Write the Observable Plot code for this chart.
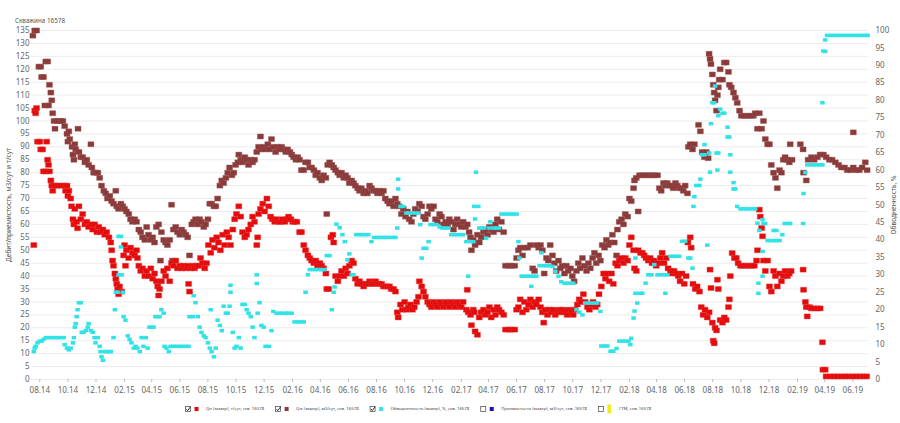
<!DOCTYPE html>
<html><head><meta charset="utf-8">
<script src="https://cdn.jsdelivr.net/npm/d3@7"></script>
<script src="https://cdn.jsdelivr.net/npm/@observablehq/plot@0.6"></script>
<style>
body{margin:0;background:#fff;font-family:"Segoe UI","Noto Sans",sans-serif;}
#wrap{width:900px;height:423px;overflow:hidden;}
#wrap svg{display:block;}
</style></head><body>
<div id="wrap"><div id="title"></div><div id="chart"></div><div id="legend"></div></div>
<script>
// Qн (замер), т/сут
const oilQ = [
["2014-07-19",52],["2014-07-21",104],["2014-07-23",103],["2014-07-25",105],["2014-07-27",92],["2014-08-01",92],["2014-08-03",89],["2014-08-07",89],["2014-08-09",80.5],["2014-08-14",80.5],["2014-08-16",92],["2014-08-18",85],["2014-08-20",83],["2014-08-22",80.5],["2014-08-25",77],["2014-08-27",75],["2014-08-29",73],["2014-09-02",75],["2014-09-09",75],["2014-09-15",75],["2014-09-22",75],["2014-09-26",73],["2014-09-29",75],["2014-10-01",71],["2014-10-03",73],["2014-10-07",70],["2014-10-09",67],["2014-10-12",62],["2014-10-14",60],["2014-10-16",66],["2014-10-20",61],["2014-10-22",58.5],["2014-10-25",67],["2014-10-29",62],["2014-11-02",64],["2014-11-07",60],["2014-11-11",61],["2014-11-15",59],["2014-11-20",60],["2014-11-24",58],["2014-11-28",60],["2014-12-03",57],["2014-12-07",59],["2014-12-11",57],["2014-12-16",58],["2014-12-20",56],["2014-12-24",57],["2014-12-29",55],
["2015-01-02",53],["2015-01-04",50],["2015-01-06",46],["2015-01-08",44],["2015-01-11",41],["2015-01-13",39],["2015-01-15",37],["2015-01-17",35],["2015-01-19",33],["2015-01-21",36],["2015-01-26",34],["2015-01-30",48],["2015-02-01",52],["2015-02-03",44],["2015-02-05",50],["2015-02-10",47],["2015-02-14",51],["2015-02-18",49],["2015-02-23",48],["2015-02-27",50],["2015-03-01",47],["2015-03-04",44],["2015-03-08",42],["2015-03-12",43],["2015-03-17",40],["2015-03-21",42],["2015-03-25",40],["2015-03-30",43],["2015-04-03",39],["2015-04-07",41],["2015-04-11",38],["2015-04-14",36],["2015-04-16",32.5],["2015-04-18",35],["2015-04-22",38],["2015-04-27",42],["2015-05-01",40],["2015-05-05",43],["2015-05-10",38],["2015-05-14",45],["2015-05-18",44],["2015-05-23",46],["2015-05-27",43],["2015-06-01",44],["2015-06-05",43],["2015-06-09",44],["2015-06-14",43],["2015-06-18",44],["2015-06-20",37],["2015-06-22",34],["2015-06-25",43],["2015-06-29",44],["2015-07-03",43],["2015-07-07",44],["2015-07-12",44],["2015-07-16",47],["2015-07-20",45],["2015-07-25",43],["2015-07-29",45],
["2015-08-02",52],["2015-08-07",49],["2015-08-11",54],["2015-08-15",51],["2015-08-20",55],["2015-08-24",53],["2015-08-28",50],["2015-09-02",56],["2015-09-06",52],["2015-09-11",57],["2015-09-15",55],["2015-09-19",52],["2015-09-24",58],["2015-09-28",62],["2015-10-02",64],["2015-10-07",67],["2015-10-11",63],["2015-10-15",57],["2015-10-20",55],["2015-10-24",56],["2015-10-28",58],["2015-11-02",60],["2015-11-06",63],["2015-11-10",61],["2015-11-15",52],["2015-11-17",55],["2015-11-19",64],["2015-11-23",66],["2015-11-28",68],["2015-12-02",65],["2015-12-07",70],["2015-12-11",67],["2015-12-15",63],["2015-12-19",62],["2015-12-24",61],["2015-12-28",62],
["2016-01-02",61],["2016-01-06",61],["2016-01-10",62],["2016-01-15",61],["2016-01-19",62],["2016-01-23",63],["2016-01-28",62],["2016-02-01",61],["2016-02-05",61],["2016-02-10",61],["2016-02-16",57],["2016-02-20",57],["2016-02-25",52],["2016-02-29",50],["2016-03-05",48],["2016-03-09",47],["2016-03-13",46],["2016-03-18",45],["2016-03-22",46],["2016-03-26",44],["2016-03-31",45],["2016-04-04",44],["2016-04-08",43],["2016-04-13",41],["2016-04-15",35],["2016-04-19",35],["2016-04-24",55],["2016-04-28",56],["2016-04-30",53],["2016-05-04",40],["2016-05-09",38],["2016-05-13",40],["2016-05-17",42],["2016-05-22",40],["2016-05-26",43],["2016-05-30",41],["2016-06-03",44],["2016-06-08",46],["2016-06-12",45],["2016-06-16",39],["2016-06-21",37],["2016-06-25",38],["2016-06-29",37],["2016-07-04",36],["2016-07-08",37],["2016-07-12",37],["2016-07-17",38],["2016-07-21",37],["2016-07-25",37],["2016-07-30",38],["2016-08-03",37],["2016-08-07",37],["2016-08-12",37],["2016-08-16",36],["2016-08-20",36],["2016-08-25",36],["2016-08-29",36],["2016-09-02",35],["2016-09-07",35],["2016-09-11",34],["2016-09-15",26],["2016-09-17",24],["2016-09-22",29],["2016-09-26",27],["2016-10-01",30],["2016-10-05",27],["2016-10-09",28],["2016-10-14",29],["2016-10-18",27],["2016-10-22",28],["2016-10-27",30],["2016-10-31",32],["2016-11-02",38],["2016-11-07",36],["2016-11-11",34],["2016-11-15",32],["2016-11-20",30],["2016-11-24",29],["2016-11-28",28],["2016-12-03",30],["2016-12-07",29],["2016-12-11",28],["2016-12-16",30],["2016-12-20",29],["2016-12-24",28],["2016-12-29",30],
["2017-01-02",29],["2017-01-06",28],["2017-01-10",30],["2017-01-15",29],["2017-01-19",28],["2017-01-23",30],["2017-01-28",29],["2017-02-01",28],["2017-02-05",30],["2017-02-12",27],["2017-02-14",34.7],["2017-02-16",26],["2017-02-21",25],["2017-02-23",21],["2017-02-27",27],["2017-03-01",26],["2017-03-03",18.6],["2017-03-08",17.3],["2017-03-12",24],["2017-03-16",26],["2017-03-21",27],["2017-03-25",25],["2017-03-30",26],["2017-04-03",28],["2017-04-07",24],["2017-04-12",27],["2017-04-16",25],["2017-04-20",28],["2017-04-24",27],["2017-04-29",26],["2017-05-04",25],["2017-05-08",19.3],["2017-05-15",19.3],["2017-05-21",19.3],["2017-05-28",19.3],["2017-06-01",27],["2017-06-05",28],["2017-06-09",31],["2017-06-14",26],["2017-06-18",30],["2017-06-22",27],["2017-06-27",29],["2017-07-01",31],["2017-07-06",28],["2017-07-10",30],["2017-07-14",29],["2017-07-19",31],["2017-07-23",28],["2017-07-27",26],["2017-07-30",22],["2017-08-03",27],["2017-08-07",25],["2017-08-11",27],["2017-08-16",26],["2017-08-20",27],["2017-08-24",25],["2017-08-29",26],["2017-09-02",27],["2017-09-06",26],["2017-09-10",27],["2017-09-15",26],["2017-09-19",25],["2017-09-23",27],["2017-09-28",26],["2017-10-02",25],["2017-10-06",27],["2017-10-11",29],["2017-10-15",31],["2017-10-19",30],["2017-10-24",33],["2017-10-28",30],["2017-11-02",28],["2017-11-06",27],["2017-11-10",29],["2017-11-14",30],["2017-11-19",28],["2017-11-23",29],["2017-11-27",33],["2017-12-02",36],["2017-12-07",41],["2017-12-11",39],["2017-12-15",41],["2017-12-19",38],["2017-12-24",41],["2017-12-28",37],
["2018-01-02",45],["2018-01-06",44],["2018-01-10",46],["2018-01-15",47],["2018-01-19",45],["2018-01-23",47],["2018-01-28",46],["2018-02-01",52],["2018-02-05",55],["2018-02-10",50],["2018-02-12",43],["2018-02-16",42],["2018-02-20",50],["2018-02-25",49],["2018-03-01",49],["2018-03-05",48],["2018-03-09",47],["2018-03-14",46],["2018-03-18",47],["2018-03-22",45],["2018-03-26",46],["2018-03-31",44],["2018-04-04",45],["2018-04-09",47],["2018-04-13",49],["2018-04-17",45],["2018-04-22",47],["2018-04-26",43],["2018-05-01",42],["2018-05-05",41],["2018-05-09",42],["2018-05-13",41],["2018-05-18",40],["2018-05-22",38],["2018-05-26",41],["2018-05-31",37],["2018-06-04",40],["2018-06-08",53],["2018-06-13",55],["2018-06-15",51],["2018-06-19",37],["2018-06-24",35],["2018-06-28",36],["2018-07-03",34],["2018-07-07",28],["2018-07-11",25],["2018-07-15",27],["2018-07-20",24],["2018-07-24",26],["2018-07-26",42.5],["2018-07-28",35.4],["2018-07-31",22],["2018-08-02",15],["2018-08-04",14],["2018-08-06",20],["2018-08-09",19],["2018-08-11",38.6],["2018-08-13",35],["2018-08-17",23],["2018-08-22",22],["2018-08-26",24],["2018-08-30",23],["2018-09-04",28],["2018-09-06",31],["2018-09-08",40],["2018-09-12",48.9],["2018-09-17",47],["2018-09-21",47],["2018-09-25",45],["2018-09-30",44],["2018-10-04",44],["2018-10-11",44],["2018-10-17",44],["2018-10-24",44],["2018-10-30",44],["2018-11-04",46],["2018-11-06",50],["2018-11-10",65.7],["2018-11-12",63],["2018-11-15",58.6],["2018-11-17",55.4],["2018-11-19",46],["2018-11-23",42],["2018-11-28",46],["2018-12-02",36],["2018-12-06",34],["2018-12-11",42],["2018-12-15",40],["2018-12-19",36],["2018-12-24",41],["2018-12-28",38],
["2019-01-01",40],["2019-01-05",42],["2019-01-10",40],["2019-01-14",41],["2019-01-18",42],["2019-02-13",42.5],["2019-02-14",34.7],["2019-02-18",30],["2019-02-20",28],["2019-02-22",24.4],["2019-02-27",28],["2019-03-03",27.5],["2019-03-09",27.5],["2019-03-16",27.5],["2019-03-22",27.5],["2019-03-27",14.4],["2019-03-28",3.8],["2019-04-02",3.8],["2019-04-04",1.2],["2019-04-13",1.2],["2019-04-21",1.2],["2019-04-29",1.2],["2019-05-07",1.2],["2019-05-15",1.2],["2019-05-23",1.2],["2019-05-31",1.2],["2019-06-08",1.2],["2019-06-16",1.2],["2019-06-24",1.2],["2019-07-01",1.2]
];

// Qж (замер), м3/сут
const liquidQ = [
["2014-07-17",133],["2014-07-21",135],["2014-07-25",135],["2014-07-30",121],["2014-08-03",121],["2014-08-05",117],["2014-08-09",117],["2014-08-12",106],["2014-08-14",123],["2014-08-18",123],["2014-08-20",106],["2014-08-22",114],["2014-08-25",111],["2014-08-27",108],["2014-08-29",103],["2014-09-01",100],["2014-09-03",97],["2014-09-07",100],["2014-09-11",100],["2014-09-16",100],["2014-09-20",100],["2014-09-24",98],["2014-09-29",95],["2014-10-01",92],["2014-10-03",96],["2014-10-05",93],["2014-10-10",90],["2014-10-12",87],["2014-10-14",85],["2014-10-16",91],["2014-10-18",89],["2014-10-23",97],["2014-10-25",88],["2014-10-29",86],["2014-11-02",86],["2014-11-07",84],["2014-11-11",85],["2014-11-15",83],["2014-11-20",91],["2014-11-22",82],["2014-11-26",80],["2014-11-30",80],["2014-12-05",80],["2014-12-09",78],["2014-12-13",75],["2014-12-18",73],["2014-12-22",72],["2014-12-26",70],["2014-12-31",71],
["2015-01-04",69],["2015-01-08",68],["2015-01-13",73],["2015-01-15",67],["2015-01-19",66],["2015-01-24",68],["2015-01-28",67],["2015-02-01",66],["2015-02-05",65],["2015-02-10",64],["2015-02-14",62],["2015-02-18",61],["2015-02-23",62],["2015-02-27",61],["2015-03-04",58],["2015-03-08",57],["2015-03-12",55],["2015-03-17",54],["2015-03-21",59],["2015-03-25",56],["2015-03-30",54],["2015-04-03",55],["2015-04-07",53],["2015-04-11",59],["2015-04-16",60],["2015-04-20",46],["2015-04-22",57],["2015-04-27",54],["2015-05-01",53],["2015-05-05",52],["2015-05-10",54],["2015-05-14",67.6],["2015-05-16",46],["2015-05-18",58],["2015-05-23",59],["2015-05-27",57],["2015-06-01",56],["2015-06-05",58],["2015-06-09",57],["2015-06-14",56],["2015-06-18",55],["2015-06-22",48],["2015-06-27",60],["2015-07-01",61],["2015-07-05",62],["2015-07-10",60],["2015-07-14",62],["2015-07-18",61],["2015-07-23",59],["2015-07-27",60],["2015-08-01",62],["2015-08-05",68],["2015-08-09",68],["2015-08-14",67],["2015-08-18",67],["2015-08-22",70],["2015-08-27",75],["2015-08-31",77],["2015-09-04",76],["2015-09-09",78],["2015-09-13",80],["2015-09-17",82],["2015-09-22",79],["2015-09-26",80],["2015-09-30",83],["2015-10-05",84],["2015-10-07",87],["2015-10-11",85],["2015-10-15",84],["2015-10-20",86],["2015-10-24",85],["2015-10-28",83],["2015-11-02",85],["2015-11-06",84],["2015-11-10",85],["2015-11-15",88],["2015-11-19",90],["2015-11-23",94],["2015-11-25",89],["2015-11-30",90],["2015-12-04",89],["2015-12-09",91],["2015-12-13",89],["2015-12-17",93],["2015-12-21",90],["2015-12-26",88],["2015-12-30",90],
["2016-01-04",89],["2016-01-08",90],["2016-01-13",89],["2016-01-17",88],["2016-01-21",89],["2016-01-26",88],["2016-01-30",87],["2016-02-03",86],["2016-02-08",85],["2016-02-12",86],["2016-02-16",85],["2016-02-20",81],["2016-02-25",81],["2016-02-29",84],["2016-03-05",84],["2016-03-09",82],["2016-03-13",82],["2016-03-18",81],["2016-03-22",79],["2016-03-26",80],["2016-03-31",78],["2016-04-04",77],["2016-04-08",79],["2016-04-13",78],["2016-04-15",64],["2016-04-17",83],["2016-04-21",84],["2016-04-26",83],["2016-04-30",82],["2016-05-04",81],["2016-05-09",80],["2016-05-13",79],["2016-05-17",80],["2016-05-22",78],["2016-05-26",79],["2016-05-30",78],["2016-06-03",76],["2016-06-08",77],["2016-06-12",76],["2016-06-16",75],["2016-06-21",74],["2016-06-25",73],["2016-06-29",74],["2016-07-04",72],["2016-07-08",73],["2016-07-12",72],["2016-07-17",75],["2016-07-21",74],["2016-07-25",73],["2016-07-30",73],["2016-08-03",72],["2016-08-07",73],["2016-08-12",72],["2016-08-16",73],["2016-08-20",70],["2016-08-25",69],["2016-08-29",68],["2016-09-02",69],["2016-09-07",67],["2016-09-11",70],["2016-09-15",68],["2016-09-19",67],["2016-09-24",64],["2016-09-28",66],["2016-10-03",63],["2016-10-07",65],["2016-10-11",62],["2016-10-16",61],["2016-10-20",64],["2016-10-24",66],["2016-10-29",65],["2016-11-02",68],["2016-11-07",67],["2016-11-11",63],["2016-11-15",62],["2016-11-20",64],["2016-11-24",67],["2016-11-28",66],["2016-12-03",67],["2016-12-07",62],["2016-12-11",61],["2016-12-16",64],["2016-12-20",63],["2016-12-24",60],["2016-12-29",61],
["2017-01-02",60],["2017-01-06",62],["2017-01-10",61],["2017-01-15",58],["2017-01-19",60],["2017-01-23",62],["2017-01-28",60],["2017-02-01",59],["2017-02-05",61],["2017-02-10",59],["2017-02-14",60],["2017-02-18",57],["2017-02-21",55],["2017-02-23",50],["2017-02-27",54],["2017-03-03",52],["2017-03-08",56],["2017-03-12",53],["2017-03-16",55],["2017-03-21",57],["2017-03-25",58],["2017-03-30",56],["2017-04-03",59],["2017-04-07",58],["2017-04-12",57],["2017-04-16",60],["2017-04-20",62],["2017-04-24",58],["2017-04-29",61],["2017-05-04",57],["2017-05-08",44],["2017-05-15",44],["2017-05-21",44],["2017-05-28",44],["2017-06-01",47],["2017-06-05",50],["2017-06-09",51],["2017-06-14",48],["2017-06-18",51],["2017-06-25",51],["2017-07-01",52],["2017-07-06",43],["2017-07-10",42],["2017-07-14",52],["2017-07-19",51],["2017-07-23",52],["2017-07-27",50],["2017-07-31",41],["2017-08-05",47],["2017-08-09",46],["2017-08-13",52],["2017-08-18",48],["2017-08-22",45],["2017-08-26",42],["2017-08-31",46],["2017-09-04",43],["2017-09-08",44],["2017-09-13",41],["2017-09-17",44],["2017-09-21",42],["2017-09-26",43],["2017-09-30",40],["2017-10-04",38],["2017-10-09",42],["2017-10-13",45],["2017-10-17",43],["2017-10-22",47],["2017-10-26",44],["2017-10-31",42],["2017-11-04",45],["2017-11-08",43],["2017-11-13",47],["2017-11-17",49],["2017-11-21",45],["2017-11-26",48],["2017-11-30",46],["2017-12-04",52],["2017-12-09",51],["2017-12-13",54],["2017-12-17",52],["2017-12-22",53],["2017-12-26",56],["2017-12-30",53],
["2018-01-04",48],["2018-01-06",58],["2018-01-10",61],["2018-01-15",62],["2018-01-19",60],["2018-01-23",64],["2018-01-28",63],["2018-02-01",70],["2018-02-05",69],["2018-02-10",74],["2018-02-12",77],["2018-02-16",78],["2018-02-20",65],["2018-02-23",79],["2018-03-01",79],["2018-03-08",79],["2018-03-14",79],["2018-03-21",79],["2018-03-27",79],["2018-04-03",79],["2018-04-07",74],["2018-04-11",73],["2018-04-16",76],["2018-04-20",75],["2018-04-24",76],["2018-04-29",75],["2018-05-03",75],["2018-05-07",74],["2018-05-12",76],["2018-05-16",75],["2018-05-20",74],["2018-05-25",74],["2018-05-29",73],["2018-06-02",75],["2018-06-07",72],["2018-06-09",90],["2018-06-13",91],["2018-06-18",89],["2018-06-22",91],["2018-07-01",98.5],["2018-07-05",96],["2018-07-09",88],["2018-07-14",86],["2018-07-18",88],["2018-07-22",85.6],["2018-07-24",126],["2018-07-26",124],["2018-07-28",122],["2018-07-31",118],["2018-08-02",114],["2018-08-04",111],["2018-08-06",108],["2018-08-09",104],["2018-08-11",110],["2018-08-13",113],["2018-08-15",116],["2018-08-17",120],["2018-08-22",116],["2018-08-26",122.6],["2018-08-30",122.6],["2018-09-04",119],["2018-09-06",114],["2018-09-10",113],["2018-09-15",111],["2018-09-19",109],["2018-09-23",107],["2018-09-28",104],["2018-10-02",102],["2018-10-09",102],["2018-10-15",102],["2018-10-22",102],["2018-10-28",102],["2018-11-01",103],["2018-11-06",97],["2018-11-10",103],["2018-11-15",97],["2018-11-19",100],["2018-11-23",93],["2018-11-28",91],["2018-12-02",91],["2018-12-06",83],["2018-12-11",80],["2018-12-15",78],["2018-12-19",74],["2018-12-24",81],["2018-12-28",80],
["2019-01-01",85],["2019-01-05",86],["2019-01-10",85],["2019-01-14",84],["2019-01-16",91],["2019-01-20",85],["2019-02-07",91],["2019-02-13",89],["2019-02-14",80],["2019-02-20",77],["2019-02-24",85],["2019-03-03",86],["2019-03-09",85],["2019-03-16",86],["2019-03-22",87],["2019-03-29",87],["2019-04-04",86],["2019-04-11",85],["2019-04-17",85],["2019-04-24",84],["2019-05-01",83],["2019-05-07",82],["2019-05-14",82],["2019-05-20",81],["2019-05-27",81],["2019-06-02",95.6],["2019-06-02",82],["2019-06-08",81],["2019-06-15",81],["2019-06-21",82],["2019-06-28",84],["2019-07-02",81]
];

// Обводненность (замер), %
const waterCut = [
["2014-07-19",8],["2014-07-21",9],["2014-07-23",9.5],["2014-07-27",10.5],["2014-08-01",11],["2014-08-05",11],["2014-08-09",11.5],["2014-08-14",12],["2014-08-20",12],["2014-08-27",12],["2014-09-03",12],["2014-09-09",12],["2014-09-15",12],["2014-09-22",12],["2014-09-24",10],["2014-09-29",9],["2014-10-03",8.5],["2014-10-07",9],["2014-10-12",10.5],["2014-10-14",12],["2014-10-16",15],["2014-10-18",16],["2014-10-20",18],["2014-10-22",20],["2014-10-25",22],["2014-10-29",22],["2014-10-31",13.5],["2014-11-04",13.5],["2014-11-09",14],["2014-11-13",15],["2014-11-15",16],["2014-11-20",14],["2014-11-24",13.5],["2014-11-28",12],["2014-11-30",10.5],["2014-12-05",12],["2014-12-09",9.5],["2014-12-11",8],["2014-12-13",6.5],["2014-12-16",5.5],["2014-12-20",8],["2014-12-24",8],["2014-12-29",8],
["2015-01-02",8],["2015-01-08",12],["2015-01-11",20],["2015-01-13",25],["2015-01-17",25],["2015-01-19",30],["2015-01-19",41],["2015-01-24",38],["2015-01-24",41],["2015-01-26",30],["2015-01-28",25],["2015-01-30",18],["2015-02-03",17],["2015-02-08",12.5],["2015-02-12",11.5],["2015-02-16",10.5],["2015-02-21",9],["2015-02-25",9.5],["2015-03-01",9],["2015-03-06",8],["2015-03-10",12],["2015-03-14",9.5],["2015-03-19",12],["2015-03-23",9],["2015-03-27",15],["2015-04-01",15],["2015-04-05",15],["2015-04-09",18],["2015-04-14",18],["2015-04-18",18],["2015-04-22",20],["2015-04-27",19],["2015-04-29",9.5],["2015-05-03",9],["2015-05-08",8],["2015-05-12",9.5],["2015-05-18",9.5],["2015-05-25",9.5],["2015-06-01",9.5],["2015-06-07",9.5],["2015-06-14",9.5],["2015-06-20",9.5],["2015-06-22",18],["2015-06-29",18],["2015-07-01",24],["2015-07-05",22],["2015-07-10",18],["2015-07-14",15],["2015-07-18",13.5],["2015-07-23",12.5],["2015-07-27",12],["2015-08-01",10.5],["2015-08-05",9],["2015-08-07",20],["2015-08-09",8],["2015-08-14",6.5],["2015-08-18",9],["2015-08-22",17],["2015-08-27",15.5],["2015-08-31",14],["2015-09-04",21],["2015-09-09",19],["2015-09-13",19],["2015-09-17",21],["2015-09-19",27],["2015-09-19",25],["2015-09-24",13.5],["2015-09-28",9],["2015-10-02",9.5],["2015-10-07",12],["2015-10-11",9],["2015-10-15",21.5],["2015-10-20",21.5],["2015-10-24",20],["2015-10-28",19],["2015-11-02",18],["2015-11-06",15],["2015-11-10",12],["2015-11-15",30],["2015-11-15",27.5],["2015-11-17",19],["2015-11-21",22],["2015-11-25",15.5],["2015-11-30",15],["2015-12-04",9.5],["2015-12-11",9.5],["2015-12-17",14],["2015-12-21",19.5],["2015-12-28",19],
["2016-01-04",19],["2016-01-10",19],["2016-01-17",19],["2016-01-23",19],["2016-01-30",19],["2016-02-05",16.5],["2016-02-12",16.5],["2016-02-18",16.5],["2016-02-25",16.5],["2016-02-29",25],["2016-03-05",30],["2016-03-09",31.5],["2016-03-15",31.5],["2016-03-22",31.5],["2016-03-28",31.5],["2016-04-04",31.5],["2016-04-10",31.5],["2016-04-15",35.5],["2016-04-21",35.5],["2016-04-26",20],["2016-04-30",25],["2016-05-02",26.5],["2016-05-06",44.5],["2016-05-13",43.5],["2016-05-19",41.5],["2016-05-24",39.5],["2016-05-30",34.3],["2016-06-03",36],["2016-06-08",30],["2016-06-12",30],["2016-06-18",41.5],["2016-06-25",41.5],["2016-07-01",41.5],["2016-07-08",41.5],["2016-07-14",41.5],["2016-07-21",39.5],["2016-07-27",40.7],["2016-08-03",40.7],["2016-08-10",40.7],["2016-08-16",40.7],["2016-08-23",40.7],["2016-08-29",40.7],["2016-09-05",40.7],["2016-09-11",40.7],["2016-09-15",43.4],["2016-09-17",57.4],["2016-09-17",54.6],["2016-09-22",49.6],["2016-09-28",49.6],["2016-10-05",47.7],["2016-10-11",47.7],["2016-10-18",47.7],["2016-10-24",47.7],["2016-10-31",47.7],["2016-11-04",44.4],["2016-11-07",34.8],["2016-11-11",37.6],["2016-11-17",37.6],["2016-11-22",39.5],["2016-11-26",44.4],["2016-12-03",44.4],["2016-12-09",44.4],["2016-12-16",43.7],["2016-12-22",43.4],["2016-12-29",43.4],
["2017-01-04",43.4],["2017-01-10",41.5],["2017-01-17",41.5],["2017-01-23",41.5],["2017-01-30",41.5],["2017-02-05",41.5],["2017-02-12",39.5],["2017-02-16",29.6],["2017-02-21",39.5],["2017-02-27",39.5],["2017-03-01",49.6],["2017-03-03",46],["2017-03-05",59.4],["2017-03-10",49.6],["2017-03-12",43.4],["2017-03-16",43.4],["2017-03-23",43.4],["2017-03-27",40.5],["2017-04-03",43.4],["2017-04-05",45.2],["2017-04-12",43.4],["2017-04-18",43.4],["2017-04-24",43.4],["2017-04-29",47.4],["2017-05-06",47.4],["2017-05-12",47.4],["2017-05-19",47.4],["2017-05-25",47.4],["2017-06-01",47.4],["2017-06-05",39.5],["2017-06-07",34.8],["2017-06-12",29.6],["2017-06-18",29.6],["2017-06-25",29.6],["2017-07-01",29.6],["2017-07-03",26.7],["2017-07-08",29.6],["2017-07-14",29.6],["2017-07-21",32.6],["2017-07-25",36.3],["2017-07-30",32.6],["2017-08-05",32.6],["2017-08-11",32.6],["2017-08-18",32.4],["2017-08-24",31],["2017-08-31",29.6],["2017-09-06",28],["2017-09-13",27.6],["2017-09-19",27.6],["2017-09-26",27.6],["2017-10-02",27.6],["2017-10-09",20],["2017-10-15",19.3],["2017-10-22",18.5],["2017-10-28",21.9],["2017-11-04",21.9],["2017-11-10",21.9],["2017-11-17",21.9],["2017-11-23",21.9],["2017-11-30",19.5],["2017-12-02",9.6],["2017-12-09",9.6],["2017-12-15",9.6],["2017-12-22",8.1],["2017-12-28",8.1],
["2018-01-04",8.9],["2018-01-10",11],["2018-01-17",11],["2018-01-23",11],["2018-01-30",11],["2018-02-03",10],["2018-02-05",11.8],["2018-02-10",17.6],["2018-02-12",19.6],["2018-02-14",34.8],["2018-02-14",24.7],["2018-02-18",21.9],["2018-02-23",24.7],["2018-03-01",24.7],["2018-03-08",27.6],["2018-03-14",30],["2018-03-21",30],["2018-03-27",32.9],["2018-04-03",30],["2018-04-09",30],["2018-04-16",30],["2018-04-20",24.7],["2018-04-24",30],["2018-05-01",35.3],["2018-05-07",35.3],["2018-05-13",35.3],["2018-05-20",35.3],["2018-05-26",39.6],["2018-06-02",39.6],["2018-06-09",34.8],["2018-06-13",34.8],["2018-06-18",31.9],["2018-06-20",49.6],["2018-06-22",52.4],["2018-06-26",55.6],["2018-07-03",55.6],["2018-07-05",57.4],["2018-07-09",64.4],["2018-07-14",64.4],["2018-07-14",67.3],["2018-07-20",38.5],["2018-07-24",64.9],["2018-07-26",59.4],["2018-07-28",73.3],["2018-07-31",79.3],["2018-08-04",79.3],["2018-08-06",84.1],["2018-08-09",64.9],["2018-08-11",60],["2018-08-13",75.6],["2018-08-13",64.9],["2018-08-17",77.5],["2018-08-22",76.3],["2018-08-26",76.3],["2018-09-02",72.3],["2018-09-02",69.5],["2018-09-06",69.5],["2018-09-08",64.4],["2018-09-08",59.4],["2018-09-15",56.4],["2018-09-15",54.6],["2018-09-19",54.6],["2018-09-23",49.6],["2018-09-30",48.9],["2018-10-06",48.9],["2018-10-13",48.9],["2018-10-19",48.9],["2018-10-26",48.9],["2018-11-01",48.9],["2018-11-06",44.8],["2018-11-08",27.6],["2018-11-08",24.7],["2018-11-10",42.7],["2018-11-17",29.6],["2018-11-17",36.7],["2018-11-17",45.8],["2018-11-19",44.7],["2018-11-23",44.7],["2018-11-28",39.8],["2018-12-04",39.8],["2018-12-11",39.8],["2018-12-11",42.7],["2018-12-17",42.7],["2018-12-17",39.8],["2018-12-24",39.8],["2018-12-30",41.5],
["2019-01-04",44.7],["2019-01-10",44.7],["2019-01-16",44.7],["2019-02-13",44.7],["2019-02-14",53.3],["2019-02-18",59.3],["2019-02-22",61.5],["2019-03-01",61.5],["2019-03-07",61.5],["2019-03-14",61.5],["2019-03-20",61.5],["2019-03-27",79.3],["2019-03-27",61.5],["2019-03-29",94.1],["2019-04-02",97.3],["2019-04-02",94],["2019-04-06",98.6],["2019-04-13",98.6],["2019-04-20",98.6],["2019-04-27",98.6],["2019-05-04",98.6],["2019-05-11",98.6],["2019-05-18",98.6],["2019-05-25",98.6],["2019-06-01",98.6],["2019-06-08",98.6],["2019-06-15",98.6],["2019-06-22",98.6],["2019-06-29",98.6],["2019-07-03",98.6]
];

const xTickLabels = ["08.14","10.14","12.14","02.15","04.15","06.15","08.15","10.15","12.15","02.16","04.16","06.16","08.16","10.16","12.16","02.17","04.17","06.17","08.17","10.17","12.17","02.18","04.18","06.18","08.18","10.18","12.18","02.19","04.19","06.19"];
const leftTicks = d3.range(0, 136, 5);
const rightTicks = d3.range(0, 101, 5);
const xDomain = ["2014-07-14", "2019-07-05"];
const leftMax = 135, rightMax = 100;
const titleText = "Скважина 16578";
const leftTitle = "Дебит/приемистость, м3/сут и т/сут";
const rightTitle = "Обводненность, %";

const legendItems = [
  {label: "Qн (замер), т/сут, скв. 16578", color: "#e30b0b", checked: true, tall: false},
  {label: "Qж (замер), м3/сут, скв. 16578", color: "#8b3a3a", checked: true, tall: false},
  {label: "Обводненность (замер), %, скв. 16578", color: "#2fe3e6", checked: true, tall: false},
  {label: "Приемистость (замер), м3/сут, скв. 16578", color: "#1010c8", checked: false, tall: false},
  {label: "ГТМ, скв. 16578", color: "#f4ea1a", checked: false, tall: true}
];

const FONT = '"Segoe UI","Noto Sans",sans-serif';
const k = leftMax / rightMax;
const parseM = d3.utcParse("%m.%y");
const box = (w, h) => ({draw(ctx) { ctx.moveTo(-w/2, -h/2); ctx.lineTo(w/2, -h/2); ctx.lineTo(w/2, h/2); ctx.lineTo(-w/2, h/2); ctx.closePath(); }});
const dt = d => new Date(d[0]);

// title (above the chart)
const tsvg = d3.select("#title").append("svg").attr("width", 900).attr("height", 24);
tsvg.append("text").attr("x", 15).attr("y", 21).attr("dominant-baseline", "middle")
  .attr("font-family", FONT).attr("font-size", 6.3).attr("fill", "#555").text(titleText);

const chart = Plot.plot({
  width: 900, height: 374,
  marginTop: 6, marginBottom: 19, marginLeft: 31, marginRight: 32,
  style: {fontFamily: FONT, fontSize: "8px", color: "#666", background: "#fff", overflow: "visible"},
  x: {type: "utc", domain: xDomain.map(s => new Date(s))},
  y: {domain: [0, leftMax]},
  marks: [
    Plot.gridY(leftTicks, {stroke: "#ececec", strokeOpacity: 1}),
    Plot.axisY(leftTicks, {anchor: "left", tickSize: 0, tickPadding: 2, label: null}),
    Plot.axisY(rightTicks.map(v => v * k), {anchor: "right", tickSize: 0, tickPadding: 7, label: null, tickFormat: v => Math.round(v / k)}),
    Plot.axisX(xTickLabels.map(parseM), {anchor: "bottom", tickSize: 3, tickPadding: 5, stroke: "#bbb", tickFormat: d3.utcFormat("%m.%y"), label: null}),
    Plot.text([leftTitle], {frameAnchor: "left", dx: -23, rotate: -90, textAnchor: "middle", fontSize: 6.6, fill: "#555"}),
    Plot.text([rightTitle], {frameAnchor: "right", dx: 25, rotate: -90, textAnchor: "middle", fontSize: 6.6, fill: "#555"}),
    Plot.dot(liquidQ, {x: dt, y: d => d[1], symbol: box(6, 5), fill: "#8b3a3a", stroke: "#9b5050", strokeWidth: 0.4}),
    Plot.dot(oilQ, {x: dt, y: d => d[1], symbol: box(6, 5), fill: "#e30b0b", stroke: "#ee3030", strokeWidth: 0.4}),
    Plot.dot(waterCut, {x: dt, y: d => d[1] * k, symbol: box(4.5, 3.5), fill: "#2fe3e6"})
  ]
});
document.getElementById("chart").appendChild(chart);

// legend (below the chart)
const lsvg = d3.select("#legend").append("svg").attr("width", 900).attr("height", 25)
  .attr("font-family", FONT).attr("font-size", 4.3).attr("fill", "#444");
let lx = 185;
const cy = 11;
for (const it of legendItems) {
  const g = lsvg.append("g");
  g.append("rect").attr("x", lx + 0.5).attr("y", cy - 2.5).attr("width", 5).attr("height", 5).attr("fill", "#fff").attr("stroke", "#444").attr("stroke-width", 0.7);
  if (it.checked) g.append("path").attr("d", `M${lx+1.3},${cy} L${lx+2.7},${cy+1.7} L${lx+5.6},${cy-2.4}`).attr("fill", "none").attr("stroke", "#222").attr("stroke-width", 0.9);
  if (it.tall) g.append("rect").attr("x", lx + 9.5).attr("y", cy - 4.5).attr("width", 3.5).attr("height", 9).attr("fill", it.color);
  else g.append("rect").attr("x", lx + 9.5).attr("y", cy - 2).attr("width", 4).attr("height", 4).attr("fill", it.color);
  const t = g.append("text").attr("x", lx + 21).attr("y", cy).attr("dominant-baseline", "middle").text(it.label);
  lx += 21 + t.node().getComputedTextLength() + 11;
}
</script>
</body></html>
